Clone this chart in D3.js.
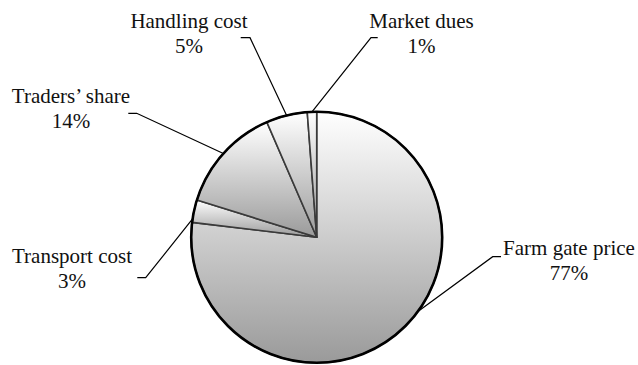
<!DOCTYPE html>
<html>
<head>
<meta charset="utf-8">
<script src="https://cdn.jsdelivr.net/npm/d3@7"></script>
<style>
  body { margin: 0; background: #fff; }
</style>
</head>
<body>
<script>
// shares of the consumer price, clockwise from 12 o'clock
const categories = ['Farm gate price', 'Transport cost', "Traders\u2019 share", 'Handling cost', 'Market dues'];
const shares = [76.9, 2.9, 13.7, 5.3, 1.2];

const width = 638, height = 365,
    cx = 316.7, cy = 237.3,
    radius = 125.5;

// label layout: text centre, first baseline, leader tick (x0 -> x1 at y), point on arc (fraction of slice)
const labelLayout = [
  {tx: 569, ty: 255, x0: 501, x1: 492.7, y: 256.7, f: 0.456},
  {tx: 72, ty: 263, x0: 137.3, x1: 145.7, y: 277.7, f: 0.15},
  {tx: 71, ty: 103, x0: 128.3, x1: 136.7, y: 113.3, f: 0.5},
  {tx: 189, ty: 28, x0: 240.7, x1: 250, y: 37.7, f: 0.5},
  {tx: 421.5, ty: 28, x0: 377.7, x1: 371, y: 37.7, f: 0.5}
];

const svg = d3.select('body').append('svg')
    .attr('width', width)
    .attr('height', height);

const grad = svg.append('defs').append('linearGradient')
    .attr('id', 'slice-fill')
    .attr('x1', 0).attr('y1', 0)
    .attr('x2', 0).attr('y2', 1);
grad.append('stop').attr('offset', '0%').attr('stop-color', '#ffffff');
grad.append('stop').attr('offset', '100%').attr('stop-color', '#9a9a9a');

const pie = d3.pie().sort(null).value(d => d);
const arcs = pie(shares);

const arc = d3.arc().innerRadius(0).outerRadius(radius);

const g = svg.append('g')
    .attr('transform', 'translate(' + cx + ',' + cy + ')');

g.selectAll('.slice')
    .data(arcs)
  .enter().append('path')
    .attr('class', 'slice')
    .attr('d', arc)
    .style('fill', 'url(#slice-fill)')
    .style('stroke', '#3a3a3a')
    .style('stroke-width', 1.6)
    .style('stroke-linejoin', 'round');

g.append('circle')
    .attr('r', radius)
    .style('fill', 'none')
    .style('stroke', '#000')
    .style('stroke-width', 2.6);

// leader lines and labels
arcs.forEach((a, i) => {
  const l = labelLayout[i];
  const ang = a.startAngle + (a.endAngle - a.startAngle) * l.f;
  const ex = cx + radius * Math.sin(ang),
      ey = cy - radius * Math.cos(ang);
  svg.append('polyline')
      .attr('points', [[l.x0, l.y], [l.x1, l.y], [ex, ey]].map(p => p.join(',')).join(' '))
      .style('fill', 'none')
      .style('stroke', '#000')
      .style('stroke-width', 1.2);

  const t = svg.append('text')
      .attr('text-anchor', 'middle')
      .attr('font-family', "'Liberation Serif', 'DejaVu Serif', serif")
      .attr('font-size', 21)
      .attr('fill', '#111')
      .attr('x', l.tx)
      .attr('y', l.ty);
  t.append('tspan').attr('x', l.tx).text(categories[i]);
  t.append('tspan').attr('x', l.tx).attr('dy', 25).text(Math.round(shares[i]) + '%');
});
</script>
</body>
</html>
